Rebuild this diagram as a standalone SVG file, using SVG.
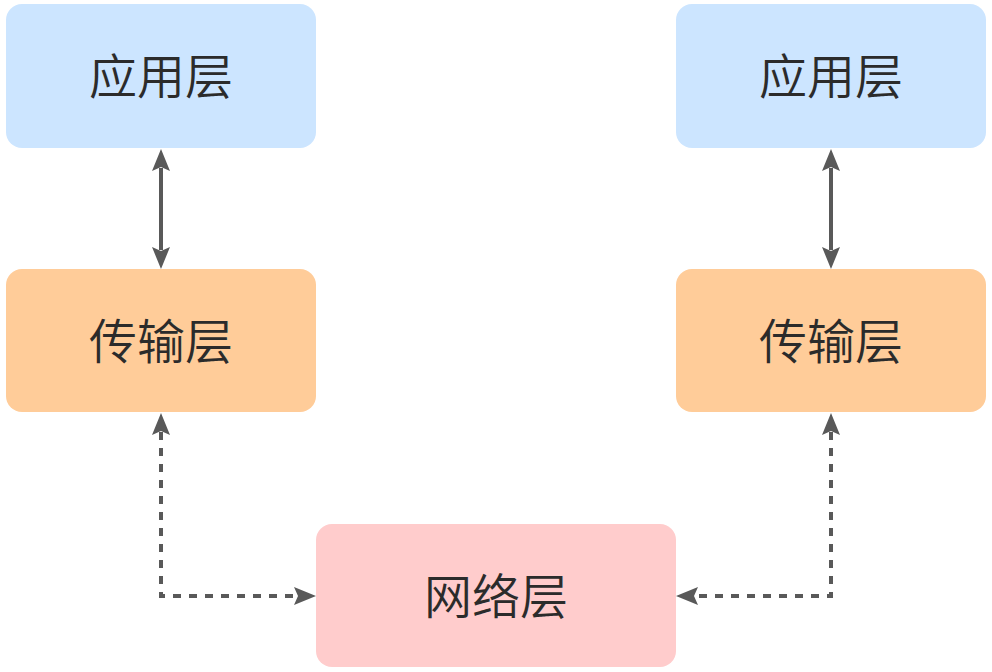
<svg xmlns="http://www.w3.org/2000/svg" width="992" height="672" viewBox="0 0 992 672">
<style>
.box{stroke:none}
.app{fill:#cce5ff}
.tr{fill:#ffcc99}
.net{fill:#ffcccc}
.lbl{font-family:"Noto Sans CJK SC","Noto Sans",sans-serif;font-size:48px;font-weight:350;fill:#2b2b2b;text-anchor:middle}
.solid{stroke:#595959;stroke-width:4;fill:none}
.dash{stroke:#595959;stroke-width:4;fill:none;stroke-dasharray:8 8}
.head{fill:#595959}
</style>
<rect width="992" height="672" fill="#ffffff"/>
<g id="connectors">
<line class="solid" x1="161" y1="168" x2="161" y2="250"/>
<polygon class="head" points="161,149 170,171 161,167 152,171"/>
<polygon class="head" points="161,269 170,247 161,251 152,247"/>
<line class="solid" x1="831" y1="168" x2="831" y2="250"/>
<polygon class="head" points="831,149 840,171 831,167 822,171"/>
<polygon class="head" points="831,269 840,247 831,251 822,247"/>
<path class="dash" d="M161,432 L161,596 L297,596"/>
<polygon class="head" points="161,413 170,435 161,431 152,435"/>
<polygon class="head" points="316,596 294,587 298,596 294,605"/>
<path class="dash" d="M831,432 L831,596 L695,596"/>
<polygon class="head" points="831,413 840,435 831,431 822,435"/>
<polygon class="head" points="676,596 698,587 694,596 698,605"/>
</g>
<g id="app-left">
<rect class="box app" x="6" y="4" width="310" height="144" rx="16"/>
<text class="lbl" x="161" y="94">应用层</text>
</g>
<g id="app-right">
<rect class="box app" x="676" y="4" width="310" height="144" rx="16"/>
<text class="lbl" x="831" y="94">应用层</text>
</g>
<g id="tr-left">
<rect class="box tr" x="6" y="269" width="310" height="143" rx="16"/>
<text class="lbl" x="161" y="359">传输层</text>
</g>
<g id="tr-right">
<rect class="box tr" x="676" y="269" width="310" height="143" rx="16"/>
<text class="lbl" x="831" y="359">传输层</text>
</g>
<g id="net">
<rect class="box net" x="316" y="524" width="360" height="143" rx="16"/>
<text class="lbl" x="496" y="614">网络层</text>
</g>
</svg>
